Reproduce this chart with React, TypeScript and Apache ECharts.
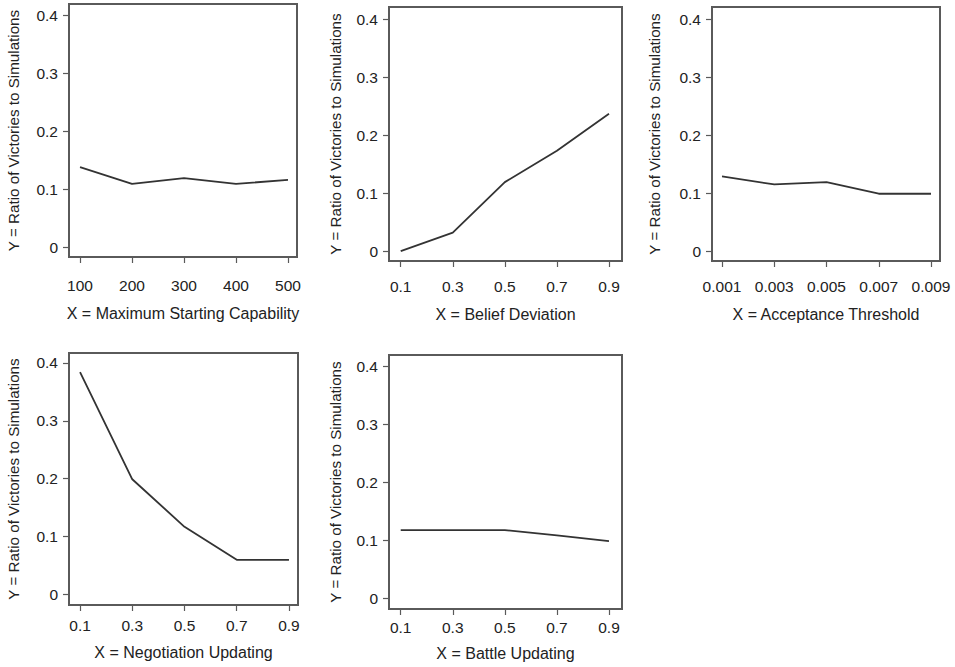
import React, { useEffect, useRef } from "react";
import * as echarts from "echarts";

// ---- data ----
const yTicks = [0, 0.1, 0.2, 0.3, 0.4];
const yTitle = "Y = Ratio of Victories to Simulations";

const capX = [100, 200, 300, 400, 500];
const capY = [0.138, 0.109, 0.119, 0.109, 0.116];

const beliefX = [0.1, 0.3, 0.5, 0.7, 0.9];
const beliefY = [0.0, 0.032, 0.119, 0.173, 0.237];

const acceptX = [0.001, 0.003, 0.005, 0.007, 0.009];
const acceptY = [0.129, 0.115, 0.119, 0.099, 0.099];

const negotX = [0.1, 0.3, 0.5, 0.7, 0.9];
const negotY = [0.384, 0.199, 0.117, 0.06, 0.06];

const battleX = [0.1, 0.3, 0.5, 0.7, 0.9];
const battleY = [0.118, 0.118, 0.118, 0.109, 0.099];

const xTitles = [
  "X = Maximum Starting Capability",
  "X = Belief Deviation",
  "X = Acceptance Threshold",
  "X = Negotiation Updating",
  "X = Battle Updating",
];
const xDecimals = [0, 1, 3, 1, 1];

// ---- layout ----
const panels = [
  { xs: capX, ys: capY, left: 69, top: 4, w: 228, h: 253, xmin: 78.8, xmax: 517.3, ymin: -0.017, ymax: 0.419, lblM: 20, nameGapX: 48, nameGapY: 48 },
  { xs: beliefX, ys: beliefY, left: 389, top: 7, w: 233, h: 254, xmin: 0.055, xmax: 0.95, ymin: -0.017, ymax: 0.421, lblM: 17, nameGapX: 45, nameGapY: 46 },
  { xs: acceptX, ys: acceptY, left: 712, top: 7, w: 228, h: 254, xmin: 0.000617, xmax: 0.009344, ymin: -0.017, ymax: 0.421, lblM: 17, nameGapX: 45, nameGapY: 50 },
  { xs: negotX, ys: negotY, left: 69, top: 353, w: 229, h: 252, xmin: 0.0577, xmax: 0.9346, ymin: -0.018, ymax: 0.417, lblM: 12, nameGapX: 39, nameGapY: 48 },
  { xs: battleX, ys: battleY, left: 389, top: 355, w: 233, h: 254, xmin: 0.055, xmax: 0.95, ymin: -0.018, ymax: 0.42, lblM: 10, nameGapX: 36, nameGapY: 46 },
];

const FONT = "Liberation Sans, Arial, Helvetica, sans-serif";
const AXIS_COLOR = "#5a5a5a";
const TEXT_COLOR = "#222";

export default function App() {
  const ref = useRef<HTMLDivElement>(null);
  useEffect(() => {
    document.body.style.margin = "0";
    const chart = echarts.init(ref.current!, null, { renderer: "svg" });
    const grid = panels.map((p) => ({
      left: p.left,
      top: p.top,
      width: p.w,
      height: p.h,
      show: true,
      borderColor: AXIS_COLOR,
      borderWidth: 2,
      backgroundColor: "#fff",
      containLabel: false,
    }));
    const xAxis = panels.map((p, i) => ({
      type: "value",
      gridIndex: i,
      min: p.xmin,
      max: p.xmax,
      splitLine: { show: false },
      axisLine: { show: true, onZero: false, lineStyle: { color: AXIS_COLOR, width: 2 } },
      axisTick: { show: true, inside: false, length: 6, customValues: p.xs, lineStyle: { color: AXIS_COLOR, width: 1.2 } },
      axisLabel: {
        show: true,
        customValues: p.xs,
        margin: p.lblM,
        color: TEXT_COLOR,
        fontFamily: FONT,
        fontSize: 15.5,
        formatter: (v: number) => v.toFixed(xDecimals[i]),
      },
      name: xTitles[i],
      nameLocation: "middle",
      nameGap: p.nameGapX,
      nameTextStyle: { color: TEXT_COLOR, fontFamily: FONT, fontSize: 16 },
    }));
    const yAxis = panels.map((p, i) => ({
      type: "value",
      gridIndex: i,
      min: p.ymin,
      max: p.ymax,
      splitLine: { show: false },
      axisLine: { show: true, onZero: false, lineStyle: { color: AXIS_COLOR, width: 2 } },
      axisTick: { show: true, inside: false, length: 6, customValues: yTicks, lineStyle: { color: AXIS_COLOR, width: 1.2 } },
      axisLabel: {
        show: true,
        customValues: yTicks,
        margin: 11,
        color: TEXT_COLOR,
        fontFamily: FONT,
        fontSize: 15.5,
        formatter: (v: number) => (Math.abs(v) < 1e-9 ? "0" : v.toFixed(1)),
      },
      name: yTitle,
      nameLocation: "middle",
      nameRotate: 90,
      nameGap: p.nameGapY,
      nameTextStyle: { color: TEXT_COLOR, fontFamily: FONT, fontSize: 15.2 },
    }));
    const series = panels.map((p, i) => ({
      type: "line",
      xAxisIndex: i,
      yAxisIndex: i,
      data: p.xs.map((x, j) => [x, p.ys[j]]),
      showSymbol: false,
      symbol: "none",
      lineStyle: { color: "#333", width: 1.8 },
    }));
    chart.setOption({
      animation: false,
      backgroundColor: "#fff",
      grid,
      xAxis,
      yAxis,
      series,
    });
    return () => chart.dispose();
  }, []);
  return (
    <div
      ref={ref}
      style={{ position: "fixed", left: 0, top: 0, width: 955, height: 667 }}
    />
  );
}
